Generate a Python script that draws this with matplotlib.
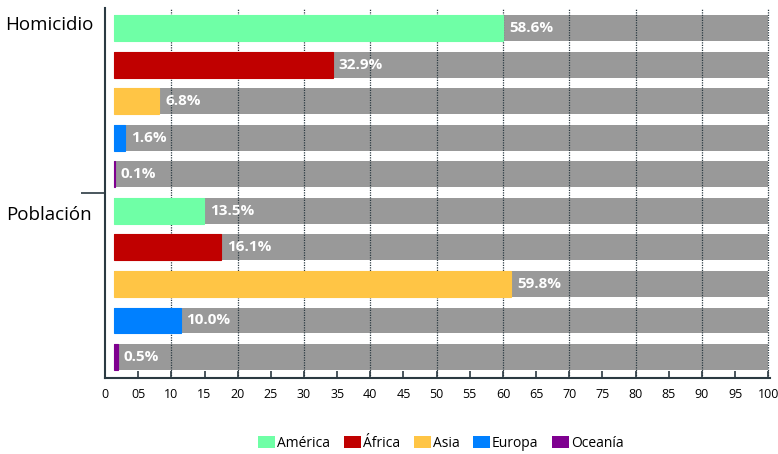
import numpy as np
import matplotlib.pyplot as plt
from matplotlib.patches import Patch

# ---------- data ----------
regions   = ["América", "África", "Asia", "Europa", "Oceanía"]
colors    = ["#6fffa6", "#c00000", "#ffc545", "#0080ff", "#7f0090"]
homicidio = [58.6, 32.9, 6.8, 1.6, 0.1]
poblacion = [13.5, 16.1, 59.8, 10.0, 0.5]
groups    = ["Homicidio", "Población"]
xticks    = list(range(0, 101, 5))
xlabels   = ["0"] + [f"{t:02d}" for t in xticks[1:]]

plt.rcParams['font.family'] = ['Open Sans', 'DejaVu Sans']

fig = plt.figure(figsize=(7.78, 4.54), dpi=100)
ax = fig.add_axes([0.135, 0.167, 0.855, 0.815])

start = 1.4
gray = "#999999"
values = homicidio + poblacion
cols = colors + colors
ypos = np.arange(len(values))

# gray background bars, gridlines, then coloured share
ax.barh(ypos, 100 - start, left=start, height=0.71, color=gray, zorder=1)
for x in range(10, 101, 10):
    ax.axvline(x, color="#2b3a42", lw=0.9, ls=(0, (1, 1)), zorder=2)
ax.barh(ypos, values, left=start, height=0.71, color=cols,
        edgecolor=cols, linewidth=0.8, zorder=3)

for y, v in zip(ypos, values):
    ax.text(start + v + 0.9, y, f"{v:.1f}%", color="white", fontweight="bold",
            fontsize=11, va="center", ha="left", zorder=4)

ax.set_xlim(0, 100.3)
ax.set_ylim(9.58, -0.55)

ax.set_xticks(xticks)
ax.set_xticklabels(xlabels, fontsize=9)
ax.tick_params(axis="x", direction="in", length=5, width=1.2, color="#2b3a42", pad=7)

# group separator tick on y axis
ax.set_yticks([4.5])
ax.set_yticklabels([""])
ax.tick_params(axis="y", direction="out", length=17, width=1.2, color="#2b3a42")

ax.text(-8.4, -0.1, groups[0], fontsize=13.5, ha="center", va="center", clip_on=False)
ax.text(-8.4, 5.1, groups[1], fontsize=13.5, ha="center", va="center", clip_on=False)

for s in ["top", "right"]:
    ax.spines[s].set_visible(False)
for s in ["left", "bottom"]:
    ax.spines[s].set_color("#2b3a42")
    ax.spines[s].set_linewidth(1.5)

handles = [Patch(facecolor=c, label=r) for c, r in zip(colors, regions)]
fig.legend(handles=handles, loc="center", bbox_to_anchor=(0.567, 0.024), ncol=5,
           frameon=False, fontsize=10, handlelength=1.2, handleheight=1.0,
           handletextpad=0.15, columnspacing=1.0)

fig.savefig("out.png", dpi=100)
